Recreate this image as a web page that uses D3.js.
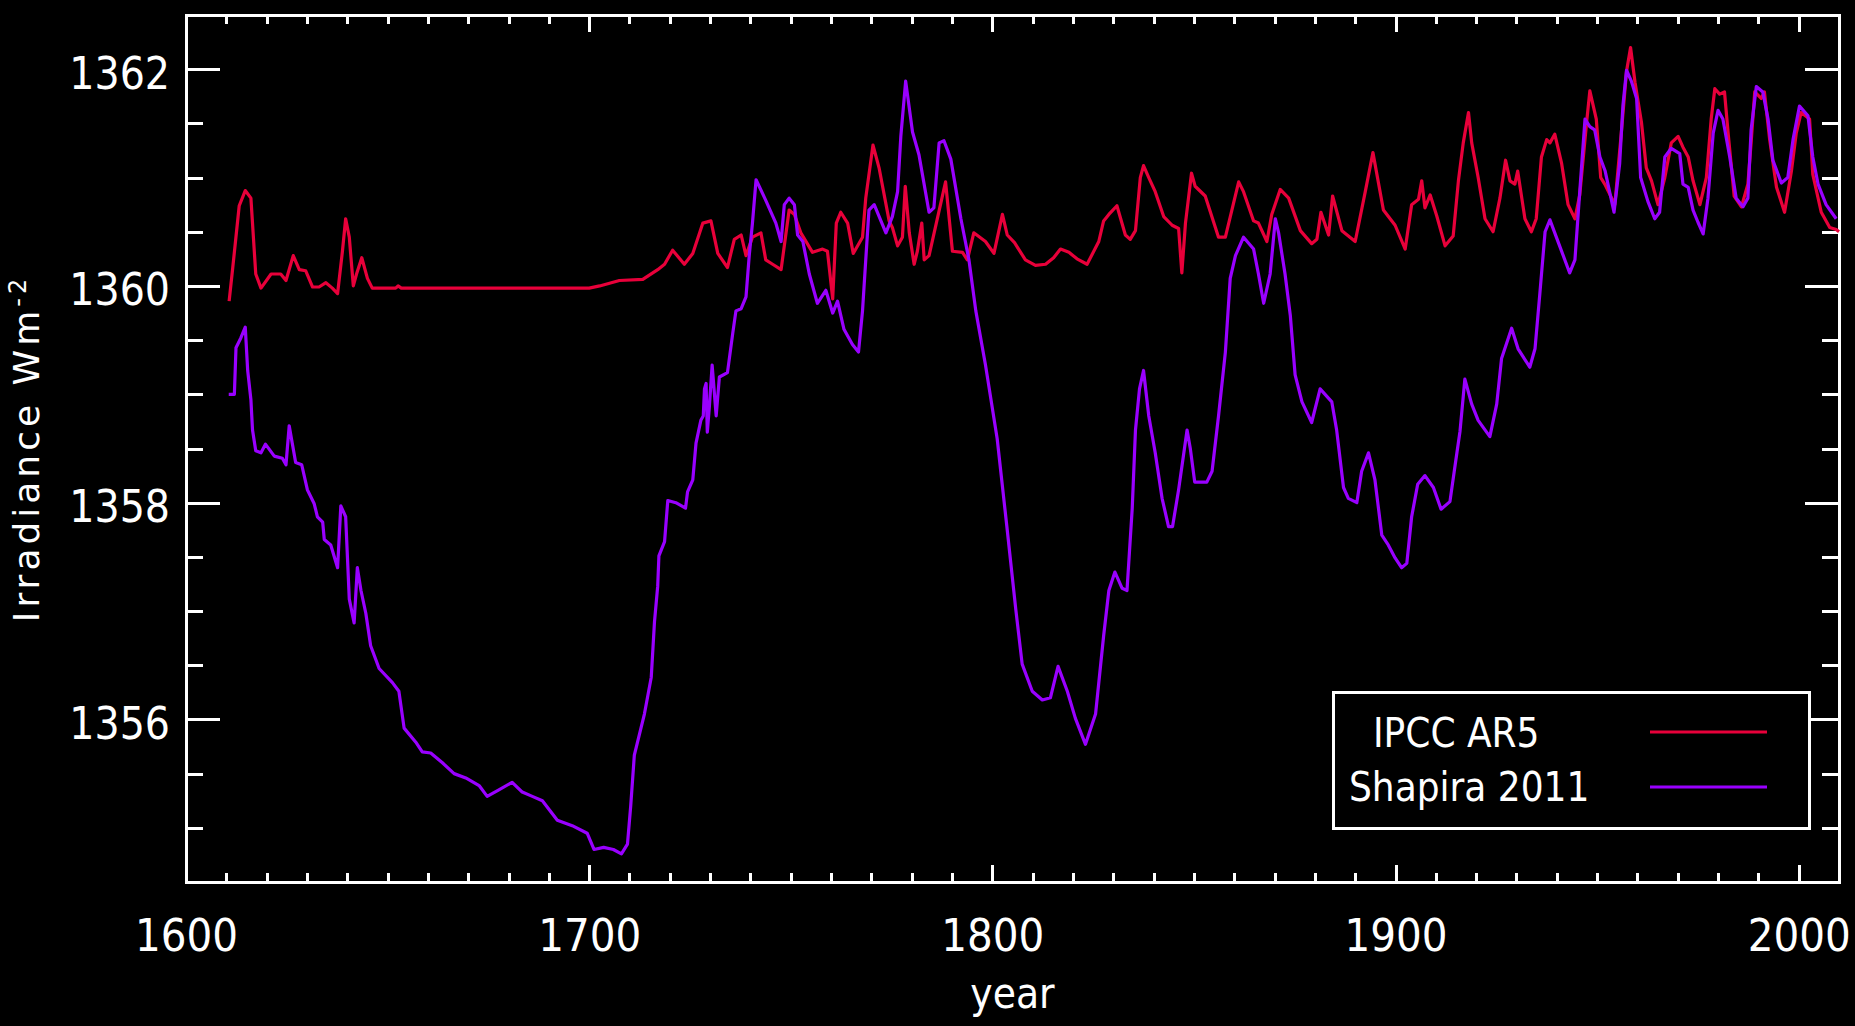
<!DOCTYPE html>
<html><head><meta charset="utf-8">
<script src="https://cdn.jsdelivr.net/npm/d3@7/dist/d3.min.js"></script>
<style>
html,body{margin:0;padding:0;background:#000;}
svg{display:block;}
</style></head><body>
<svg id="chart" width="1855" height="1026"></svg>
<script>
// ---- data ----
const ipccYears = [1610.7,1611.6,1613.2,1614.7,1616.1,1617.3,1618.6,1621.1,1623.5,1624.8,1626.6,1628.1,1629.7,1631.4,1633.0,1634.7,1636.3,1637.6,1638.8,1639.6,1640.5,1641.5,1642.3,1643.6,1645.0,1646.2,1652.0,1652.6,1653.4,1700.0,1702.6,1707.5,1713.3,1717.0,1718.7,1720.7,1723.6,1725.7,1728.2,1730.2,1731.9,1734.3,1736.0,1737.7,1738.9,1740.5,1742.6,1743.8,1745.5,1747.6,1749.6,1750.9,1752.5,1755.4,1757.9,1759.1,1760.4,1761.3,1762.4,1764.1,1765.5,1767.8,1768.6,1770.4,1771.9,1774.4,1775.2,1776.5,1777.7,1778.4,1779.4,1780.6,1781.4,1782.5,1783.1,1784.3,1788.4,1790.1,1792.6,1793.8,1795.4,1798.3,1800.4,1802.5,1803.7,1805.5,1808.2,1810.7,1813.2,1815.2,1816.9,1819.0,1821.0,1823.5,1826.4,1827.6,1828.9,1830.9,1833.0,1834.2,1835.5,1836.7,1837.5,1838.8,1840.4,1842.5,1844.6,1846.2,1847.0,1847.9,1849.4,1850.3,1852.8,1856.1,1857.8,1861.1,1862.3,1864.8,1866.0,1868.1,1869.3,1871.4,1873.5,1876.4,1879.2,1880.5,1881.5,1883.4,1884.4,1886.7,1890.0,1892.5,1894.4,1897.0,1899.9,1902.4,1904.0,1905.7,1906.5,1907.3,1908.6,1910.2,1912.3,1914.3,1915.6,1916.8,1918.1,1918.9,1920.5,1922.2,1924.2,1925.9,1927.3,1928.4,1929.6,1930.3,1932.1,1933.7,1934.9,1936.2,1937.5,1938.3,1939.5,1941.2,1942.8,1944.5,1945.7,1947.4,1948.2,1949.8,1950.9,1951.9,1954.4,1956.0,1957.3,1958.3,1959.4,1961.0,1962.2,1963.5,1965.1,1966.8,1968.4,1970.1,1971.3,1972.6,1973.8,1975.5,1977.1,1978.3,1979.2,1980.4,1981.6,1982.5,1984.0,1985.8,1987.4,1988.2,1989.1,1990.7,1991.5,1992.8,1994.5,1996.5,1998.2,1999.4,2000.6,2002.7,2003.5,2005.6,2007.7,2009.3,2010.0];
const ipccValues = [1359.86,1360.17,1360.74,1360.88,1360.81,1360.11,1359.98,1360.11,1360.11,1360.05,1360.28,1360.15,1360.14,1359.99,1359.99,1360.03,1359.98,1359.93,1360.32,1360.62,1360.45,1360.00,1360.11,1360.26,1360.07,1359.98,1359.98,1360.00,1359.98,1359.98,1360.00,1360.05,1360.06,1360.15,1360.20,1360.33,1360.20,1360.30,1360.58,1360.60,1360.30,1360.17,1360.43,1360.47,1360.28,1360.45,1360.49,1360.24,1360.20,1360.15,1360.70,1360.66,1360.49,1360.31,1360.34,1360.32,1359.88,1360.58,1360.68,1360.58,1360.30,1360.45,1360.81,1361.30,1361.09,1360.60,1360.54,1360.37,1360.45,1360.92,1360.49,1360.20,1360.32,1360.58,1360.24,1360.28,1360.96,1360.32,1360.31,1360.24,1360.49,1360.41,1360.30,1360.66,1360.47,1360.40,1360.24,1360.19,1360.20,1360.26,1360.34,1360.31,1360.25,1360.20,1360.41,1360.60,1360.66,1360.74,1360.47,1360.43,1360.51,1361.00,1361.11,1361.00,1360.87,1360.64,1360.56,1360.53,1360.12,1360.58,1361.04,1360.92,1360.83,1360.45,1360.45,1360.96,1360.87,1360.60,1360.58,1360.41,1360.66,1360.89,1360.81,1360.51,1360.39,1360.43,1360.68,1360.47,1360.83,1360.51,1360.41,1360.87,1361.23,1360.70,1360.56,1360.34,1360.75,1360.80,1360.97,1360.72,1360.84,1360.65,1360.37,1360.46,1360.97,1361.32,1361.60,1361.32,1361.00,1360.62,1360.50,1360.81,1361.16,1360.97,1360.94,1361.06,1360.62,1360.50,1360.62,1361.19,1361.35,1361.32,1361.40,1361.13,1360.75,1360.62,1360.84,1361.51,1361.80,1361.54,1361.00,1360.94,1360.75,1361.41,1361.98,1362.20,1361.88,1361.51,1361.09,1360.97,1360.75,1361.00,1361.32,1361.38,1361.28,1361.19,1360.97,1360.75,1361.00,1361.54,1361.82,1361.77,1361.79,1361.41,1360.83,1360.73,1360.94,1361.32,1361.79,1361.73,1361.79,1361.35,1360.91,1360.68,1361.06,1361.41,1361.60,1361.54,1361.03,1360.68,1360.54,1360.52,1360.50];

const shapiraYears = [1610.6,1612.0,1612.4,1613.6,1614.7,1615.3,1616.1,1616.5,1617.3,1618.6,1619.7,1621.9,1623.9,1624.8,1625.6,1626.4,1627.2,1628.7,1630.1,1631.8,1632.6,1633.9,1634.3,1635.9,1637.6,1638.4,1639.6,1640.5,1641.7,1642.5,1643.4,1644.6,1645.8,1647.9,1651.2,1652.8,1654.1,1657.0,1658.6,1660.7,1663.6,1666.5,1669.4,1672.7,1674.7,1677.6,1680.9,1683.4,1685.9,1688.4,1692.1,1695.8,1699.5,1701.2,1703.6,1706.0,1708.0,1709.5,1710.3,1711.2,1713.7,1715.4,1716.2,1717.0,1717.3,1718.7,1719.5,1721.5,1723.9,1724.4,1725.7,1726.5,1727.7,1728.3,1728.6,1729.0,1729.3,1729.8,1730.5,1731.5,1732.3,1734.3,1735.6,1736.4,1737.7,1738.9,1739.7,1740.5,1741.4,1743.8,1746.3,1747.6,1748.4,1749.6,1750.9,1751.7,1753.0,1754.6,1756.6,1758.7,1760.4,1761.6,1763.2,1765.3,1766.8,1767.8,1768.6,1769.4,1770.7,1773.6,1775.2,1776.5,1777.3,1778.5,1780.2,1781.8,1784.3,1785.5,1786.8,1788.0,1789.7,1792.2,1794.2,1795.9,1798.3,1801.2,1803.6,1805.8,1807.4,1809.9,1812.4,1814.4,1816.3,1818.6,1820.6,1823.1,1825.6,1827.6,1828.9,1830.4,1832.2,1833.4,1834.7,1835.5,1836.5,1837.5,1838.8,1840.4,1842.1,1843.7,1844.7,1846.2,1848.3,1849.1,1850.2,1853.2,1854.5,1856.1,1857.8,1859.0,1860.3,1862.3,1864.8,1866.0,1867.3,1868.9,1870.2,1871.0,1872.6,1873.9,1875.1,1876.8,1879.2,1881.3,1884.2,1885.4,1887.1,1888.3,1890.4,1891.6,1893.3,1894.9,1896.6,1898.2,1899.9,1901.5,1902.8,1904.0,1905.5,1907.3,1909.4,1911.3,1913.5,1914.8,1916.0,1917.2,1918.9,1920.5,1923.4,1925.1,1926.3,1928.8,1930.4,1933.3,1934.6,1935.8,1937.1,1938.3,1940.4,1943.2,1944.5,1945.7,1947.0,1948.2,1949.4,1950.7,1952.0,1954.2,1955.6,1956.4,1957.3,1958.5,1959.8,1960.8,1962.6,1964.3,1965.5,1966.8,1968.4,1970.5,1971.3,1972.6,1973.8,1975.0,1976.3,1977.5,1978.8,1980.0,1981.2,1982.9,1984.5,1986.2,1987.4,1988.2,1989.5,1991.1,1992.4,1993.6,1995.7,1997.3,1998.6,2000.2,2002.3,2003.5,2004.8,2006.8,2009.3];
const shapiraValues = [1359.00,1359.00,1359.43,1359.52,1359.62,1359.22,1358.95,1358.67,1358.48,1358.46,1358.54,1358.43,1358.41,1358.35,1358.71,1358.54,1358.37,1358.35,1358.12,1357.99,1357.87,1357.82,1357.66,1357.61,1357.40,1357.97,1357.87,1357.11,1356.89,1357.40,1357.19,1356.98,1356.68,1356.47,1356.34,1356.26,1355.92,1355.79,1355.70,1355.69,1355.60,1355.50,1355.46,1355.39,1355.29,1355.35,1355.42,1355.33,1355.29,1355.25,1355.07,1355.02,1354.95,1354.80,1354.82,1354.80,1354.76,1354.85,1355.20,1355.67,1356.05,1356.39,1356.90,1357.23,1357.51,1357.64,1358.02,1358.00,1357.95,1358.10,1358.21,1358.55,1358.76,1358.80,1359.05,1359.10,1358.65,1358.88,1359.27,1358.80,1359.16,1359.20,1359.56,1359.77,1359.79,1359.90,1360.28,1360.58,1360.98,1360.79,1360.58,1360.41,1360.75,1360.81,1360.75,1360.47,1360.41,1360.11,1359.84,1359.96,1359.75,1359.86,1359.60,1359.46,1359.39,1359.77,1360.24,1360.70,1360.75,1360.49,1360.64,1360.87,1361.38,1361.89,1361.42,1361.21,1360.68,1360.72,1361.32,1361.34,1361.17,1360.62,1360.24,1359.77,1359.27,1358.59,1357.78,1357.02,1356.51,1356.26,1356.18,1356.20,1356.49,1356.26,1356.01,1355.77,1356.05,1356.77,1357.19,1357.36,1357.21,1357.19,1357.95,1358.67,1359.05,1359.22,1358.80,1358.46,1358.04,1357.78,1357.78,1358.12,1358.67,1358.50,1358.19,1358.19,1358.29,1358.80,1359.39,1360.07,1360.28,1360.45,1360.34,1360.11,1359.84,1360.11,1360.62,1360.49,1360.11,1359.73,1359.18,1358.93,1358.74,1359.05,1358.93,1358.67,1358.14,1358.04,1358.00,1358.29,1358.46,1358.21,1357.70,1357.61,1357.49,1357.40,1357.44,1357.87,1358.17,1358.25,1358.14,1357.94,1358.01,1358.35,1358.66,1359.14,1358.91,1358.76,1358.61,1358.91,1359.33,1359.61,1359.42,1359.25,1359.42,1359.93,1360.50,1360.61,1360.40,1360.12,1360.24,1360.87,1361.54,1361.47,1361.44,1361.19,1361.06,1360.68,1361.13,1361.66,1361.99,1361.89,1361.73,1361.00,1360.78,1360.62,1360.68,1361.19,1361.27,1361.22,1360.94,1360.91,1360.70,1360.59,1360.48,1360.81,1361.41,1361.62,1361.54,1361.19,1360.81,1360.73,1360.81,1361.44,1361.84,1361.79,1361.54,1361.16,1360.95,1361.00,1361.35,1361.66,1361.57,1361.19,1360.94,1360.75,1360.62];

const seriesNames = ["IPCC AR5", "Shapira 2011"];
const xMajorTicks = [1600, 1700, 1800, 1900, 2000];
const yMajorTicks = [1356, 1358, 1360, 1362];
const xLabel = "year";
const yLabel = "Irradiance Wm";
const yLabelSup = "-2";

// ---- layout ----
const W = 1855, H = 1026;
const L = 186, R = 1839, T = 15, B = 882;
const red = "#e8003a", purple = "#9900ff";
const fontDigits = "'DejaVu Sans Condensed','DejaVu Sans',sans-serif";

const x = d3.scaleLinear().domain([1600, 2010]).range([L, R]);
const y = d3.scaleLinear().domain([1354.5, 1362.5]).range([B, T]);

const xMinor = d3.range(1610, 2010, 10).filter(v => v % 100 !== 0);
const yMinor = d3.range(1355, 1362.5, 0.5).filter(v => !yMajorTicks.includes(v));

const svg = d3.select("#chart");
svg.append("rect").attr("width", W).attr("height", H).attr("fill", "#000");

function style(g, size) {
  g.select(".domain").remove();
  g.selectAll("line").attr("stroke", "#fff").attr("stroke-width", 3).attr("shape-rendering", "crispEdges");
  g.selectAll("text").attr("fill", "#fff").style("font-family", fontDigits).style("font-size", size + "px");
}

// bottom
svg.append("g").attr("transform", `translate(0,${B})`)
  .call(d3.axisBottom(x).tickValues(xMajorTicks).tickSize(-17).tickPadding(37).tickFormat(d3.format("d")))
  .call(g => style(g, 45));
svg.append("g").attr("transform", `translate(0,${B})`)
  .call(d3.axisBottom(x).tickValues(xMinor).tickSize(-9).tickFormat(""))
  .call(g => style(g, 10));
// top
svg.append("g").attr("transform", `translate(0,${T})`)
  .call(d3.axisTop(x).tickValues(xMajorTicks).tickSize(-17).tickFormat(""))
  .call(g => style(g, 10));
svg.append("g").attr("transform", `translate(0,${T})`)
  .call(d3.axisTop(x).tickValues(xMinor).tickSize(-9).tickFormat(""))
  .call(g => style(g, 10));
// left
svg.append("g").attr("transform", `translate(${L},0)`)
  .call(d3.axisLeft(y).tickValues(yMajorTicks).tickSize(-34).tickPadding(16).tickFormat(d3.format("d")))
  .call(g => { style(g, 44); g.selectAll("text").attr("dy", "19px"); });
svg.append("g").attr("transform", `translate(${L},0)`)
  .call(d3.axisLeft(y).tickValues(yMinor).tickSize(-17).tickFormat(""))
  .call(g => style(g, 10));
// right
svg.append("g").attr("transform", `translate(${R},0)`)
  .call(d3.axisRight(y).tickValues(yMajorTicks).tickSize(-34).tickFormat(""))
  .call(g => style(g, 10));
svg.append("g").attr("transform", `translate(${R},0)`)
  .call(d3.axisRight(y).tickValues(yMinor).tickSize(-17).tickFormat(""))
  .call(g => style(g, 10));

// frame
svg.append("rect").attr("x", L).attr("y", T).attr("width", R - L).attr("height", B - T)
  .attr("fill", "none").attr("stroke", "#fff").attr("stroke-width", 3).attr("shape-rendering", "crispEdges");

// lines
const line = d3.line().x(d => x(d[0])).y(d => y(d[1]));
svg.append("path").datum(d3.zip(ipccYears, ipccValues))
  .attr("d", line).attr("fill", "none").attr("stroke", red).attr("stroke-width", 3.2).attr("stroke-linejoin", "round");
svg.append("path").datum(d3.zip(shapiraYears, shapiraValues))
  .attr("d", line).attr("fill", "none").attr("stroke", purple).attr("stroke-width", 3.2).attr("stroke-linejoin", "round");

// axis titles
svg.append("text").attr("x", (L + R) / 2).attr("y", 1008).attr("text-anchor", "middle")
  .attr("fill", "#fff").style("font-family", fontDigits).style("font-size", "42px").text(xLabel);

const yl = svg.append("text").attr("transform", `translate(39,${(T + B) / 2}) rotate(-90)`)
  .attr("text-anchor", "middle").attr("fill", "#fff")
  .style("font-family", "'DejaVu Sans',sans-serif").style("font-size", "36px").style("letter-spacing", "4px");
yl.append("tspan").text(yLabel);
yl.append("tspan").attr("dy", "-13").style("font-size", "24px").text(yLabelSup);

// legend
const lg = svg.append("g");
lg.append("rect").attr("x", 1333).attr("y", 692).attr("width", 1809 - 1333).attr("height", 828 - 692)
  .attr("fill", "#000").attr("stroke", "#fff").attr("stroke-width", 3).attr("shape-rendering", "crispEdges");
const legendItems = [
  {name: seriesNames[0], color: red, tx: 1373, ty: 747, ly: 732},
  {name: seriesNames[1], color: purple, tx: 1349, ty: 801, ly: 787}
];
legendItems.forEach(it => {
  lg.append("text").attr("x", it.tx).attr("y", it.ty).attr("fill", "#fff")
    .style("font-family", fontDigits).style("font-size", "40px").text(it.name);
  lg.append("line").attr("x1", 1650).attr("x2", 1767).attr("y1", it.ly).attr("y2", it.ly)
    .attr("stroke", it.color).attr("stroke-width", 3);
});
</script>
</body></html>
